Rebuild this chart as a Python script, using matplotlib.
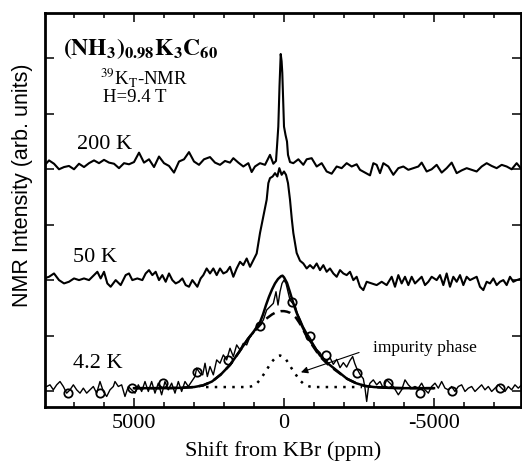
import matplotlib.pyplot as plt
from matplotlib.ticker import MultipleLocator

plt.rcParams['font.family'] = 'Liberation Serif'
plt.rcParams['mathtext.fontset'] = 'stix'

ppm_200k = [8000, 7833, 7667, 7500, 7333, 7167, 7000, 6833, 6667, 6500, 6333, 6167, 6000, 5833,
            5667, 5500, 5333, 5167, 5000, 4833, 4667, 4500, 4333, 4167, 4000, 3833, 3667, 3500,
            3333, 3167, 3000, 2833, 2667, 2467, 2300, 2133, 1967, 1800, 1689, 1522, 1356, 1189,
            1078, 967, 800, 633, 467, 356, 267, 230, 190, 150, 110, 80, 57, 0, -50, -100, -133,
            -200, -311, -478, -644, -756, -922, -1089, -1256, -1422, -1589, -1756, -1922, -2089,
            -2256, -2422, -2533, -2700, -2867, -2978, -3089, -3200, -3311, -3478, -3644, -3811,
            -3978, -4144, -4311, -4478, -4589, -4756, -4922, -5089, -5256, -5422, -5589, -5756,
            -5922, -6089, -6256, -6422, -6589, -6756, -6922, -7089, -7256, -7422, -7589, -7756,
            -7922]
int_200k = [4.06, 4.16, 4.10, 4.00, 4.04, 4.06, 4.00, 4.10, 4.04, 4.11, 4.16, 4.11, 4.17, 4.12,
            4.10, 4.02, 4.11, 4.09, 4.13, 4.30, 4.12, 4.18, 4.04, 4.23, 4.11, 4.06, 3.94, 4.14,
            4.18, 4.31, 4.14, 4.08, 4.18, 4.22, 4.12, 4.08, 4.15, 4.12, 4.20, 4.12, 4.05, 4.11,
            3.95, 4.05, 4.11, 4.08, 4.26, 4.10, 4.15, 4.44, 4.77, 5.50, 6.08, 5.95, 5.74, 4.77,
            4.62, 4.50, 4.26, 4.13, 4.11, 4.18, 4.08, 4.18, 4.20, 4.05, 4.11, 3.96, 3.92, 4.05,
            4.02, 4.11, 4.05, 4.09, 3.99, 3.94, 3.89, 4.11, 4.08, 3.93, 4.11, 4.05, 3.90, 4.02,
            4.05, 3.99, 4.02, 4.05, 4.12, 3.96, 4.00, 4.08, 3.94, 4.02, 4.12, 3.93, 3.98, 4.02,
            3.99, 3.96, 4.05, 4.11, 4.06, 4.02, 4.08, 4.05, 4.00, 4.11, 4.00]

ppm_50k = [8000, 7833, 7667, 7500, 7333, 7167, 7000, 6833, 6667, 6500, 6333, 6222, 6111, 6000,
           5889, 5778, 5611, 5444, 5278, 5167, 5056, 4889, 4722, 4611, 4500, 4389, 4278, 4167,
           4056, 3944, 3833, 3722, 3611, 3500, 3389, 3278, 3167, 3056, 2889, 2778, 2689, 2578,
           2467, 2356, 2244, 2133, 2022, 1911, 1800, 1689, 1578, 1467, 1356, 1244, 1133, 1022,
           911, 800, 689, 578, 522, 467, 378, 300, 222, 156, 78, 0, -67, -133, -200, -260, -311,
           -422, -533, -644, -756, -867, -978, -1089, -1200, -1311, -1422, -1533, -1644, -1756,
           -1867, -1978, -2089, -2200, -2311, -2422, -2533, -2644, -2756, -2922, -3089, -3256,
           -3422, -3589, -3700, -3811, -3922, -4033, -4144, -4256, -4367, -4478, -4589, -4700,
           -4811, -4922, -5089, -5200, -5311, -5422, -5533, -5644, -5756, -5867, -5978, -6089,
           -6200, -6311, -6422, -6533, -6644, -6756, -6867, -6978, -7089, -7200, -7311, -7422,
           -7533, -7644, -7756, -7922]
int_50k = [2.03, 2.06, 2.12, 2.00, 1.94, 1.97, 2.03, 2.00, 2.03, 2.00, 2.09, 2.15, 2.03, 2.15,
           1.94, 1.88, 2.00, 1.91, 2.09, 2.12, 2.00, 2.03, 2.00, 2.12, 2.18, 2.09, 2.15, 2.00,
           2.09, 1.97, 2.12, 2.00, 1.94, 1.97, 2.03, 1.91, 1.88, 2.00, 1.88, 2.03, 2.09, 2.21,
           2.12, 2.21, 2.09, 2.21, 2.12, 2.15, 2.24, 2.06, 2.21, 2.33, 2.27, 2.39, 2.24, 2.36,
           2.48, 2.85, 3.15, 3.45, 3.75, 3.84, 3.87, 3.93, 3.87, 4.02, 3.90, 3.96, 3.90, 3.75,
           3.45, 3.10, 2.85, 2.49, 2.35, 2.30, 2.21, 2.27, 2.21, 2.30, 2.18, 2.27, 2.15, 2.21,
           2.12, 2.06, 2.18, 2.12, 2.09, 2.15, 2.00, 2.06, 1.88, 1.82, 1.97, 1.94, 1.91, 1.97,
           1.91, 2.06, 1.88, 2.09, 1.94, 2.06, 1.91, 2.06, 1.94, 2.00, 2.06, 1.91, 1.97, 2.06,
           2.00, 2.09, 1.91, 2.12, 1.88, 2.06, 1.97, 2.09, 1.91, 2.06, 2.00, 2.03, 2.06, 1.88,
           1.82, 1.97, 1.94, 2.03, 1.91, 1.97, 2.00, 1.91, 2.06, 1.97, 2.00, 2.03]

ppm_4k = [7911, 7800, 7689, 7578, 7467, 7356, 7245, 7133, 7022, 6911, 6800, 6689, 6578, 6467,
          6356, 6245, 6134, 6022, 5911, 5800, 5689, 5634, 5523, 5412, 5301, 5190, 5079, 4967,
          4856, 4745, 4634, 4523, 4412, 4301, 4190, 4079, 3968, 3857, 3745, 3634, 3523, 3412,
          3301, 3190, 3079, 2968, 2912, 2800, 2711, 2633, 2556, 2467, 2356, 2244, 2133, 2022,
          1911, 1800, 1689, 1578, 1467, 1356, 1244, 1133, 1022, 911, 800, 689, 578, 467, 356,
          267, 200, 133, 67, 0, -67, -133, -200, -289, -367, -444, -533, -644, -756, -867,
          -978, -1089, -1200, -1311, -1422, -1533, -1644, -1756, -1867, -1978, -2089, -2200,
          -2289, -2356, -2422, -2533, -2644, -2700, -2756, -2811, -2866, -2977, -3089, -3200,
          -3311, -3422, -3533, -3644, -3811, -3922, -4033, -4144, -4255, -4366, -4477, -4588,
          -4700, -4811, -4922, -5033, -5144, -5255, -5366, -5477, -5588, -5699, -5810, -5922,
          -6033, -6144, -6255, -6366, -6477, -6588, -6699, -6810, -6922, -7033, -7144, -7255,
          -7366, -7477, -7588, -7699, -7810, -7921]
int_4k = [0.08, 0.11, 0.02, 0.11, 0.17, 0.08, -0.04, 0.02, 0.11, 0.02, -0.04, 0.05, -0.04, 0.02,
          0.08, -0.04, 0.17, -0.01, -0.10, 0.02, 0.08, 0.17, 0.08, 0.11, -0.10, 0.08, 0.02, -0.04,
          0.11, -0.01, 0.17, -0.01, 0.17, -0.04, 0.14, -0.07, 0.17, 0.02, 0.14, -0.04, 0.17, -0.01,
          0.17, 0.08, 0.17, 0.26, 0.41, 0.32, 0.29, 0.50, 0.26, 0.44, 0.29, 0.56, 0.50, 0.65,
          0.56, 0.77, 0.62, 0.83, 0.74, 0.86, 0.83, 0.98, 1.04, 1.16, 1.19, 1.28, 1.46, 1.52, 1.58,
          1.79, 1.55, 1.79, 1.94, 2.00, 1.94, 1.79, 1.64, 1.58, 1.55, 1.40, 1.30, 1.16, 1.05, 0.96,
          0.85, 0.75, 0.69, 0.59, 0.54, 0.60, 0.48, 0.57, 0.42, 0.51, 0.43, 0.55,
          0.62, 0.50, 0.41, 0.30, 0.22, 0.05, -0.19, 0.05, 0.14, 0.20, 0.11, 0.17,
          0.05, 0.20, 0.14, 0.08, -0.07, 0.02, 0.20, 0.11, 0.05, 0.08, 0.05, 0.14,
          0.02, -0.04, 0.08, 0.14, 0.05, 0.17, 0.05, 0.02, 0.08, -0.01, 0.08, 0.11,
          -0.01, 0.05, 0.08, -0.01, 0.05, 0.11, 0.02, 0.08, -0.01, 0.05, 0.11, 0.05,
          -0.01, 0.08, 0.02, 0.11, 0.05, 0.11]

# fit components for 4.2 K
fit_ppm = [5000, 4000, 3500, 3000, 2700, 2400, 2100, 1800, 1500, 1200, 1000, 900, 800, 700, 600,
           500, 400, 300, 200, 100, 50, 0, -100, -200, -300, -400, -500, -600, -700, -800, -900,
           -1000, -1200, -1500, -1800, -2100, -2400, -2700, -3000, -3500, -4000, -5000]
fit_total = [0.05, 0.05, 0.055, 0.07, 0.10, 0.17, 0.30, 0.47, 0.70, 0.94, 1.08, 1.16, 1.24, 1.38,
             1.55, 1.70, 1.83, 1.94, 2.02, 2.07, 2.08, 2.05, 1.95, 1.78, 1.60, 1.44, 1.30, 1.17,
             1.06, 0.96, 0.88, 0.80, 0.64, 0.48, 0.35, 0.22, 0.14, 0.09, 0.07, 0.055, 0.05, 0.05]
fit_main = [0.05, 0.05, 0.055, 0.07, 0.10, 0.17, 0.30, 0.47, 0.70, 0.94, 1.07, 1.13, 1.19, 1.25,
            1.30, 1.34, 1.38, 1.41, 1.43, 1.44, 1.44, 1.44, 1.43, 1.41, 1.37, 1.32, 1.24, 1.15,
            1.04, 0.94, 0.86, 0.78, 0.62, 0.46, 0.34, 0.22, 0.14, 0.09, 0.07, 0.055, 0.05, 0.05]
imp_ppm = [2600, 1300, 1100, 1000, 900, 800, 700, 600, 500, 400, 300, 200, 130, 50, -50, -150,
           -250, -350, -450, -550, -650, -750, -850, -1000, -2600]
imp_int = [0.07, 0.07, 0.08, 0.10, 0.14, 0.20, 0.28, 0.36, 0.45, 0.53, 0.59, 0.63, 0.64, 0.62,
           0.58, 0.50, 0.41, 0.33, 0.25, 0.18, 0.13, 0.10, 0.08, 0.07, 0.07]

circ_ppm = [7190, 6133, 5077, 4023, 2910, 1857, 800, -257, -867, -1400, -2423, -3477, -4533,
            -5590, -7200]
circ_int = [-0.04, -0.03, 0.05, 0.14, 0.35, 0.56, 1.17, 1.61, 0.99, 0.65, 0.32, 0.14, -0.03,
            -0.01, 0.05]

xtick_pos = [5000, 0, -5000]
xtick_labels = ['5000', '0', '-5000']

fig = plt.figure(figsize=(5.22, 4.62), dpi=100)
ax = fig.add_axes([45 / 522, 55 / 462, 476 / 522, 394 / 462])

ax.plot(ppm_200k, int_200k, color='k', lw=1.5, solid_joinstyle='round')
ax.plot(ppm_50k, int_50k, color='k', lw=1.5, solid_joinstyle='round')
ax.plot(ppm_4k, int_4k, color='k', lw=1.0, solid_joinstyle='round')
ax.plot(fit_ppm, fit_total, color='k', lw=1.8, solid_joinstyle='round')
ax.plot(fit_ppm, fit_main, color='k', lw=1.8, dashes=(4, 2.5))
ax.plot(imp_ppm, imp_int, color='k', lw=1.8, dashes=(1, 2.5))
ax.plot(circ_ppm, circ_int, 'o', mfc='none', mec='k', ms=6, mew=1.3)

ax.set_xlim(7967, -7900)
ax.set_ylim(-0.29, 6.82)
ax.set_xticks(xtick_pos)
ax.set_xticklabels(xtick_labels)
ax.xaxis.set_minor_locator(MultipleLocator(1000))
ax.set_yticks(range(7))
ax.set_yticklabels([])
ax.tick_params(which='both', direction='in', top=True, right=True, width=1.1)
ax.tick_params(which='major', length=6.5, labelsize=16, pad=5)
ax.tick_params(which='minor', length=3.5)
for sp in ax.spines.values():
    sp.set_linewidth(2)

ax.set_xlabel('Shift from KBr (ppm)', fontsize=16, labelpad=6)
ax.text(-0.048, 0.563, 'NMR Intensity (arb. units)', transform=ax.transAxes, rotation=90,
        ha='center', va='center', fontsize=15.5, family='Liberation Sans')

ax.text(7367, 6.06, r'$\mathbf{(NH_3)_{0.98}K_3C_{60}}$', fontsize=17, va='baseline')
ax.text(6133, 5.53, r'$^{39}$K$_{\rm T}$-NMR', fontsize=13.5, va='baseline')
ax.text(6033, 5.21, 'H=9.4 T', fontsize=13.5, va='baseline')
ax.text(6900, 4.37, '200 K', fontsize=16, va='baseline')
ax.text(7033, 2.33, '50 K', fontsize=16, va='baseline')
ax.text(7033, 0.415, '4.2 K', fontsize=16, va='baseline')
ax.text(-2967, 0.70, 'impurity phase', fontsize=12.5, va='baseline')
ax.annotate('', xy=(-477, 0.32), xytext=(-2590, 0.71),
            arrowprops=dict(arrowstyle='-|>', color='k', lw=0.8, mutation_scale=10))

fig.savefig('out.png', dpi=100)
